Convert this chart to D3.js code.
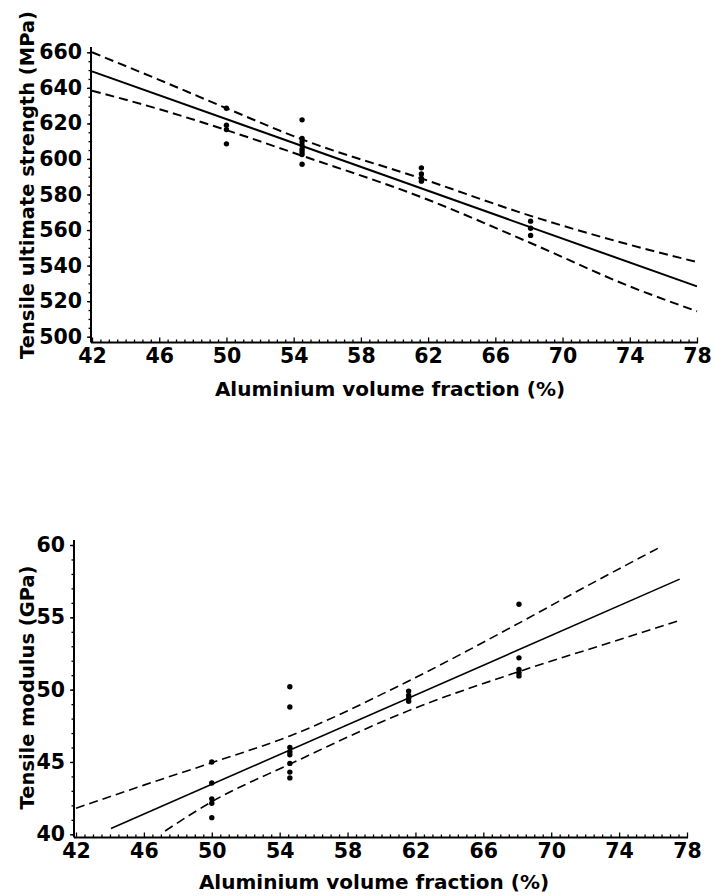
<!DOCTYPE html>
<html>
<head>
<meta charset="utf-8">
<script src="https://cdn.jsdelivr.net/npm/d3@7"></script>
<style>
  body { margin: 0; background: #fff; }
  svg { display: block; }
  .tick text { font-family: "DejaVu Sans", sans-serif; font-weight: bold; font-size: 20.5px; fill: #000; }
  .title { font-family: "DejaVu Sans", sans-serif; font-weight: bold; fill: #000; }
</style>
</head>
<body>
<svg id="chart" width="713" height="896"></svg>
<script>
// --- top panel: tensile ultimate strength (MPa)
const utsX = [50, 50, 50, 50,
  54.5, 54.5, 54.5, 54.5, 54.5, 54.5, 54.5, 54.5,
  61.6, 61.6, 61.6, 61.6,
  68.1, 68.1, 68.1];
const utsY = [628.5, 619, 616.5, 608.5,
  622, 611.5, 609.5, 607.5, 605.5, 604, 602.5, 597,
  595, 591.5, 589, 587.5,
  565, 561, 557];
const utsFitX = [42, 78];
const utsFitY = [649.3, 528.3];
const utsUpperX = [42, 46, 50, 54.5, 61.6, 68.1, 74, 78];
const utsUpperY = [660, 644.5, 628.5, 611, 589, 568, 551.7, 542];
const utsLowerX = [42, 46, 50, 54.5, 61.6, 68.1, 74, 78];
const utsLowerY = [638.4, 628, 616.2, 601.8, 578.5, 552.7, 528.3, 514.3];
const utsTicks = [500, 520, 540, 560, 580, 600, 620, 640, 660];

// --- bottom panel: tensile modulus (GPa)
const modX = [50, 50, 50, 50, 50,
  54.6, 54.6, 54.6, 54.6, 54.6, 54.6, 54.6, 54.6,
  61.6, 61.6, 61.6, 61.6,
  68.1, 68.1, 68.1, 68.1, 68.1];
const modY = [45.0, 43.55, 42.45, 42.15, 41.15,
  50.2, 48.8, 46.0, 45.7, 45.5, 44.9, 44.3, 43.9,
  49.9, 49.6, 49.4, 49.2,
  55.9, 52.2, 51.4, 51.15, 50.95];
const modFitX = [44.06, 77.57];
const modFitY = [40.4, 57.64];
const modUpperX = [42, 46, 50, 54.6, 61.6, 68.1, 72, 76.5];
const modUpperY = [41.8, 43.4, 44.95, 46.8, 50.6, 54.6, 57.1, 59.9];
const modLowerX = [47.25, 50, 54.6, 61.6, 68.1, 74, 77.6];
const modLowerY = [40.23, 42.25, 44.85, 48.55, 51.25, 53.45, 54.8];
const modTicks = [40, 45, 50, 55, 60];

const xTicks = [42, 46, 50, 54, 58, 62, 66, 70, 74, 78];
const xTitle = "Aluminium volume fraction (%)";

const svg = d3.select("#chart");

function zip(xs, ys) {
  return xs.map((x, i) => [x, ys[i]]);
}

function panel(cfg) {
  const x = d3.scaleLinear().domain([42, 78]).range(cfg.xRange);
  const y = d3.scaleLinear().domain(cfg.yDomain).range(cfg.yRange);
  const g = svg.append("g");

  // x axis, ticks point inward
  const minor = d3.range(42, 78.01, 0.5).filter((v) => v % 4 !== 2);
  g.append("g")
    .attr("transform", `translate(0,${cfg.axisY})`)
    .call(d3.axisBottom(x).tickValues(minor).tickSize(-3).tickFormat(""))
    .call((a) => a.select(".domain").remove());

  g.append("g")
    .attr("transform", `translate(0,${cfg.axisY})`)
    .call(d3.axisBottom(x).tickValues(xTicks).tickSize(-5).tickSizeOuter(0).tickPadding(6).tickFormat(d3.format("d")))
    .call((a) => a.select(".domain").attr("stroke-width", 2).attr("d", `M${cfg.axisX},0H${cfg.xRange[1] + 1}`));

  // y axis
  g.append("g")
    .attr("transform", `translate(${cfg.axisX},0)`)
    .call(d3.axisLeft(y).tickValues(cfg.yMinor).tickSize(2.5).tickFormat(""))
    .call((a) => a.select(".domain").remove());

  g.append("g")
    .attr("transform", `translate(${cfg.axisX},0)`)
    .call(d3.axisLeft(y).tickValues(cfg.yTicks).tickSize(4).tickPadding(5).tickFormat(d3.format("d")))
    .call((a) => a.select(".domain").attr("stroke-width", 2).attr("d", `M0,${cfg.yTop}V${cfg.axisY}`));

  g.selectAll(".tick line").attr("stroke", "#000").attr("stroke-width", 1.3);

  const line = d3.line().x((d) => x(d[0])).y((d) => y(d[1])).curve(d3.curveMonotoneX);

  g.append("path")
    .datum(zip(cfg.fitX, cfg.fitY))
    .attr("d", line)
    .attr("fill", "none")
    .attr("stroke", "#000")
    .attr("stroke-width", cfg.lw);

  [zip(cfg.upX, cfg.upY), zip(cfg.loX, cfg.loY)].forEach((band) => {
    g.append("path")
      .datum(band)
      .attr("d", line)
      .attr("fill", "none")
      .attr("stroke", "#000")
      .attr("stroke-width", cfg.lw)
      .attr("stroke-dasharray", "9,5");
  });

  g.selectAll("circle")
    .data(zip(cfg.ptX, cfg.ptY))
    .join("circle")
    .attr("cx", (d) => x(d[0]))
    .attr("cy", (d) => y(d[1]))
    .attr("r", 2.7)
    .attr("fill", "#000");

  g.append("text")
    .attr("class", "title")
    .attr("x", cfg.xTitlePos[0])
    .attr("y", cfg.xTitlePos[1])
    .attr("text-anchor", "middle")
    .style("font-size", "20px")
    .text(xTitle);

  g.append("text")
    .attr("class", "title")
    .attr("transform", `translate(${cfg.yTitlePos[0]},${cfg.yTitlePos[1]}) rotate(-90)`)
    .attr("text-anchor", "middle")
    .style("font-size", "19.5px")
    .text(cfg.yTitle);
}

panel({
  xRange: [92, 697],
  yDomain: [500, 660],
  yRange: [336.7, 52.3],
  axisX: 91,
  axisY: 342.5,
  yTop: 47,
  yTicks: utsTicks,
  yMinor: d3.range(500, 661, 5),
  lw: 2,
  fitX: utsFitX, fitY: utsFitY,
  upX: utsUpperX, upY: utsUpperY,
  loX: utsLowerX, loY: utsLowerY,
  ptX: utsX, ptY: utsY,
  xTitlePos: [390, 396],
  yTitlePos: [34, 185],
  yTitle: "Tensile ultimate strength (MPa)",
});

panel({
  xRange: [76, 687],
  yDomain: [40, 60],
  yRange: [834.3, 545],
  axisX: 74,
  axisY: 837.5,
  yTop: 540,
  yTicks: modTicks,
  yMinor: d3.range(40, 60.1, 1),
  lw: 1.6,
  fitX: modFitX, fitY: modFitY,
  upX: modUpperX, upY: modUpperY,
  loX: modLowerX, loY: modLowerY,
  ptX: modX, ptY: modY,
  xTitlePos: [374, 889],
  yTitlePos: [34, 687.5],
  yTitle: "Tensile modulus (GPa)",
});
</script>
</body>
</html>
